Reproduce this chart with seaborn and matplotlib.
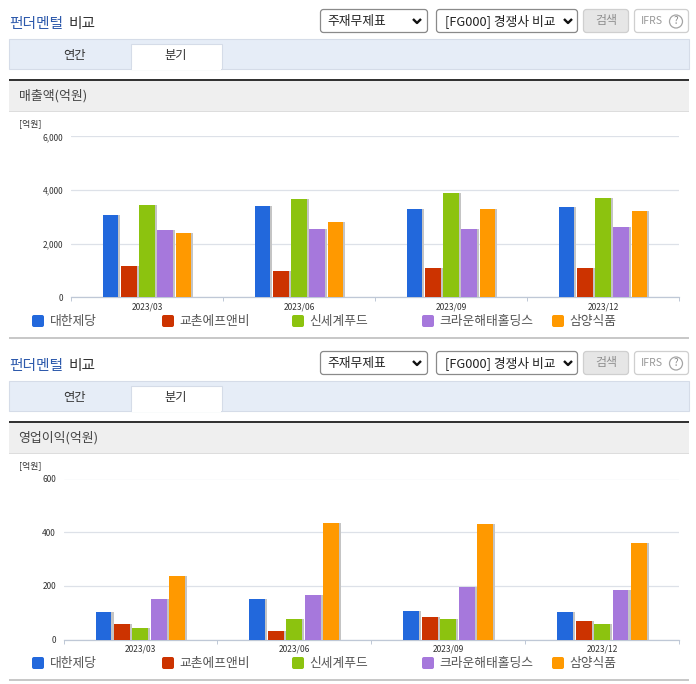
import matplotlib
matplotlib.use("Agg")
import matplotlib.pyplot as plt
import matplotlib.patheffects as pe
from matplotlib.patches import FancyBboxPatch, Rectangle, Circle
from matplotlib.ticker import FuncFormatter, FixedLocator
import pandas as pd
import seaborn as sns

quarters = ["2023/03", "2023/06", "2023/09", "2023/12"]
companies = ["대한제당", "교촌에프앤비", "신세계푸드", "크라운해태홀딩스", "삼양식품"]
colors = ["#2268DC", "#CC3300", "#8CC30F", "#A678DC", "#FF9900"]

sales_daehan = [3090, 3427, 3315, 3390]
sales_kyochon = [1184, 997, 1109, 1109]
sales_shinsegae = [3464, 3676, 3913, 3726]
sales_crown = [2517, 2555, 2555, 2642]
sales_samyang = [2417, 2829, 3315, 3240]

profit_daehan = [103, 152, 107, 103]
profit_kyochon = [57, 32, 85, 70]
profit_shinsegae = [42, 77, 77, 59]
profit_crown = [152, 167, 197, 186]
profit_samyang = [237, 436, 432, 358]

sales_series = [sales_daehan, sales_kyochon, sales_shinsegae, sales_crown, sales_samyang]
profit_series = [profit_daehan, profit_kyochon, profit_shinsegae, profit_crown, profit_samyang]

sns.set_theme(style="white")
plt.rcParams["font.family"] = ["Noto Sans CJK KR", "DejaVu Sans"]

W, H = 696, 684
fig = plt.figure(figsize=(W / 100, H / 100), dpi=100, facecolor="white")
ov = fig.add_axes([0, 0, 1, 1], zorder=0)
ov.set_xlim(0, W)
ov.set_ylim(H, 0)
ov.axis("off")


def rect(x0, y0, x1, y1, fc, ec="none", lw=0.8):
    ov.add_patch(Rectangle((x0, y0), x1 - x0, y1 - y0, fc=fc, ec=ec, lw=lw))


def rbox(x0, y0, x1, y1, fc, ec):
    ov.add_patch(FancyBboxPatch((x0 + 3, y0 + 3), x1 - x0 - 6, y1 - y0 - 6,
                                boxstyle="round,pad=3,rounding_size=3", fc=fc, ec=ec, lw=0.9))


def chevron(cx, cy):
    ov.plot([cx - 4, cx, cx + 4], [cy - 2, cy + 2, cy - 2], color="#111111", lw=1.7,
            solid_capstyle="butt")


def panel(dy, metric, series, plot_left, ymax, ystep):
    # page furniture
    ov.text(9, 24 + dy, "펀더멘털", color="#2E5AAC", fontsize=10.6, fontweight="medium", va="center")
    ov.text(68, 24 + dy, "비교", color="#333333", fontsize=10.6, fontweight="medium", va="center")
    rbox(320.5, 9.5 + dy, 427.5, 32.5 + dy, "white", "#8A8A8A")
    ov.text(327, 21 + dy, "주재무제표", color="#222222", fontsize=9.2, va="center")
    chevron(417, 21 + dy)
    rbox(436.5, 9.5 + dy, 577.5, 32.5 + dy, "white", "#8A8A8A")
    ov.text(445, 21 + dy, "[FG000] 경쟁사 비교", color="#222222", fontsize=9.2, va="center")
    chevron(568, 21 + dy)
    rbox(583.5, 9.5 + dy, 628.5, 32.5 + dy, "#E6E6E6", "#CFCFCF")
    ov.text(606, 20.5 + dy, "검색", color="#8E8E8E", fontsize=8.6, ha="center", va="center")
    rbox(634.5, 9.5 + dy, 688.5, 32.5 + dy, "white", "#CFCFCF")
    ov.text(641, 21 + dy, "IFRS", color="#9A9A9A", fontsize=7.6, va="center")
    ov.add_patch(Circle((676, 21.5 + dy), 6.5, fc="white", ec="#A5A5A5", lw=0.9))
    ov.text(676, 21.5 + dy, "?", color="#888888", fontsize=7, ha="center", va="center")

    rect(9, 39 + dy, 688.5, 68.5 + dy, "#E6EDF7", "#D5DCE8")
    rect(131, 44 + dy, 222, 68.5 + dy, "white", "#D5DCE8")
    rect(131.6, 67 + dy, 221.4, 70 + dy, "white")
    ov.text(74, 55 + dy, "연간", color="#333333", fontsize=8.8, ha="center", va="center")
    ov.text(176, 55 + dy, "분기", color="#333333", fontsize=8.8, ha="center", va="center")

    rect(9, 79 + dy, 689, 81 + dy, "#333333")
    rect(9, 81 + dy, 689, 111 + dy, "#EFEFEF")
    rect(9, 111 + dy, 689, 112 + dy, "#DDDDDD")
    ov.text(18.5, 96 + dy, metric, color="#444444", fontsize=9.3, va="center")
    ov.text(19.5, 123.5 + dy, "[억원]", color="#333333", fontsize=6.4, va="center")

    # legend row
    for i, (name, color) in enumerate(zip(companies, colors)):
        x = 32 + 130 * i
        ov.add_patch(FancyBboxPatch((x + 2, 317 + dy), 8, 8,
                                    boxstyle="round,pad=2,rounding_size=2", fc=color, ec="none"))
        ov.text(x + 17.5, 321 + dy, name, color="#555555", fontsize=9.2, va="center")
    rect(9, 337 + dy, 689, 339 + dy, "#C8C8C8")

    # bars
    top, bottom, right = 136.5 + dy, 297.5 + dy, 679
    ax = fig.add_axes([plot_left / W, 1 - bottom / H, (right - plot_left) / W, (bottom - top) / H],
                      zorder=1, facecolor="none")
    df = pd.DataFrame([
        {"quarter": q, "company": c, "value": v}
        for c, vals in zip(companies, series) for q, v in zip(quarters, vals)
    ])
    sns.barplot(data=df, x="quarter", y="value", hue="company", order=quarters, hue_order=companies,
                palette=colors, width=0.6, gap=0.14, saturation=1, legend=False, ax=ax, zorder=3,
                linewidth=0)
    for bar in ax.patches:
        bar.set_path_effects([
            pe.SimplePatchShadow(offset=(1.5, 0), shadow_rgbFace="#C4C4C4", alpha=1), pe.Normal()])
    ax.set_xlim(-0.5, 3.5)
    ax.set_ylim(0, ymax)
    ax.set_xlabel("")
    ax.set_ylabel("")
    ax.set_yticks(range(0, ymax + 1, ystep))
    ax.yaxis.set_major_formatter(FuncFormatter(lambda v, _: f"{int(v):,}"))
    ax.grid(axis="y", color="#DDE1E8", lw=0.9, zorder=0)
    ax.set_axisbelow(True)
    for side in ("top", "right", "left"):
        ax.spines[side].set_visible(False)
    ax.spines["bottom"].set_color("#BFC8D6")
    ax.spines["bottom"].set_linewidth(0.9)
    ax.xaxis.set_minor_locator(FixedLocator([-0.5, 0.5, 1.5, 2.5, 3.5]))
    ax.tick_params(axis="x", which="minor", bottom=True, length=3, width=0.7, color="#BFC8D6")
    ax.tick_params(axis="x", which="major", bottom=False, length=0, pad=3.5,
                   labelsize=6.1, labelcolor="#333333")
    ax.tick_params(axis="y", left=False, length=0, pad=5.5, labelsize=6, labelcolor="#333333")
    return ax


panel(0, "매출액(억원)", sales_series, 71, 6000, 2000)
panel(342, "영업이익(억원)", profit_series, 63.5, 600, 200)

fig.savefig("out.png", dpi=100)
